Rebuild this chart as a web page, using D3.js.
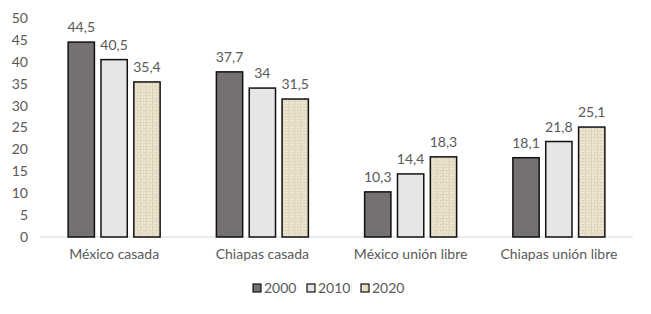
<!DOCTYPE html>
<html><head><meta charset="utf-8">
<script src="https://cdn.jsdelivr.net/npm/d3@7"></script>
<style>body{margin:0;background:#fff}svg{display:block}</style>
</head><body><svg id="c" width="651" height="314"></svg>
<script>
const categories = ["México casada", "Chiapas casada", "México unión libre", "Chiapas unión libre"];
const seriesNames = ["2000", "2010", "2020"];
const values2000 = [44.5, 37.7, 10.3, 18.1];
const values2010 = [40.5, 34, 14.4, 21.8];
const values2020 = [35.4, 31.5, 18.3, 25.1];
const yTicks = [0, 5, 10, 15, 20, 25, 30, 35, 40, 45, 50];

const series = [values2000, values2010, values2020];
const fills = ["#767171", "#e7e6e6", "url(#burlap)"];
const font = "Lato, 'Open Sans', sans-serif";
const fs = 14;
const svg = d3.select("#c");

const defs = svg.append("defs");
const pat = defs.append("pattern").attr("id", "burlap").attr("patternUnits", "userSpaceOnUse")
  .attr("width", 6).attr("height", 6);
pat.append("rect").attr("width", 6).attr("height", 6).attr("fill", "#ebe3cf");
pat.append("rect").attr("x", 0).attr("y", 0).attr("width", 1).attr("height", 6).attr("fill", "#d9cfb5");
pat.append("rect").attr("x", 3).attr("y", 2).attr("width", 2).attr("height", 1).attr("fill", "#d4c9ae");
pat.append("rect").attr("x", 2).attr("y", 5).attr("width", 3).attr("height", 1).attr("fill", "#ddd3ba");
pat.append("rect").attr("x", 4).attr("y", 0).attr("width", 1).attr("height", 1).attr("fill", "#f3eee2");

const x0 = d3.scaleBand().domain(categories).range([40, 633]);
const y = d3.scaleLinear().domain([0, 50]).range([237, 18]);
const x1 = d3.scaleBand().domain(seriesNames).range([0, 92]).paddingInner(0.2);

// y axis labels
svg.append("g").selectAll("text").data(yTicks).join("text")
  .attr("x", 28).attr("y", d => y(d)).attr("dy", "0.35em")
  .attr("text-anchor", "end").attr("font-family", font).attr("font-size", fs)
  .attr("fill", "#595959").text(d => d);

// baseline
svg.append("line").attr("x1", 40).attr("x2", 633).attr("y1", y(0)).attr("y2", y(0))
  .attr("stroke", "#d9d9d9").attr("stroke-width", 1.2);

const groups = svg.append("g").selectAll("g").data(categories).join("g")
  .attr("transform", c => `translate(${x0(c) + x0.bandwidth() / 2 - 46},0)`);

groups.each(function (c, i) {
  const g = d3.select(this);
  seriesNames.forEach((s, k) => {
    const v = series[k][i];
    g.append("rect").attr("x", x1(s)).attr("y", y(v))
      .attr("width", x1.bandwidth()).attr("height", y(0) - y(v))
      .attr("fill", fills[k]).attr("stroke", "#111").attr("stroke-width", 1.5);
    g.append("text").attr("x", x1(s) + x1.bandwidth() / 2).attr("y", y(v) - 10)
      .attr("text-anchor", "middle").attr("font-family", font).attr("font-size", fs)
      .attr("fill", "#595959").text(String(v).replace(".", ","));
  });
});

// category labels
svg.append("g").selectAll("text").data(categories).join("text")
  .attr("x", c => x0(c) + x0.bandwidth() / 2).attr("y", 259)
  .attr("text-anchor", "middle").attr("font-family", font).attr("font-size", fs)
  .attr("fill", "#595959").text(c => c);

// legend
const legX = [253, 307, 361];
const lg = svg.append("g").selectAll("g").data(seriesNames).join("g")
  .attr("transform", (d, k) => `translate(${legX[k]},284)`);
lg.append("rect").attr("width", 8).attr("height", 8).attr("fill", (d, k) => fills[k])
  .attr("stroke", "#111").attr("stroke-width", 1.2);
lg.append("text").attr("x", 11).attr("y", 4).attr("dy", "0.35em")
  .attr("font-family", font).attr("font-size", fs).attr("fill", "#595959").text(d => d);
</script></body></html>
